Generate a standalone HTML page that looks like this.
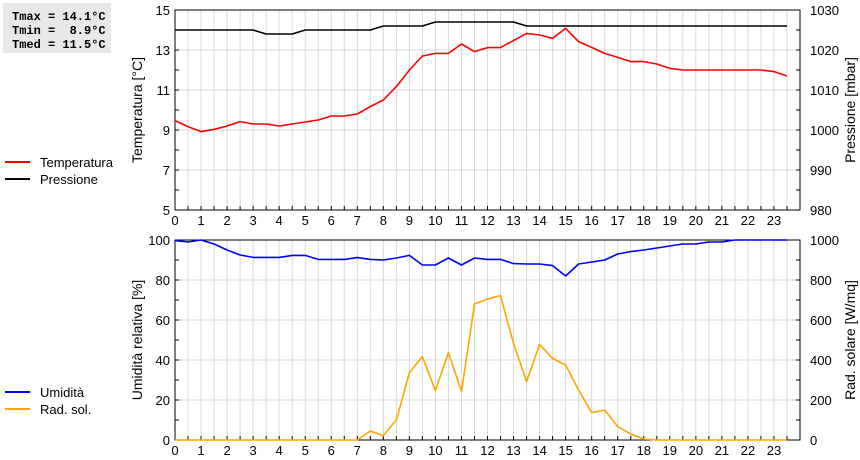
<!DOCTYPE html>
<html><head><meta charset="utf-8"><style>
html,body{margin:0;padding:0;background:#fff;width:860px;height:460px;overflow:hidden}
svg{display:block;font-family:"Liberation Sans",sans-serif}
</style></head><body>
<svg id="c" width="860" height="460" xmlns="http://www.w3.org/2000/svg">
<g>
<rect x="3" y="3" width="108" height="50" fill="#e8e8e8"/>
<text x="12" y="20" font-family="Liberation Mono,monospace" font-weight="bold" font-size="12" xml:space="preserve">Tmax = 14.1°C</text>
<text x="12" y="34" font-family="Liberation Mono,monospace" font-weight="bold" font-size="12" xml:space="preserve">Tmin =  8.9°C</text>
<text x="12" y="48" font-family="Liberation Mono,monospace" font-weight="bold" font-size="12" xml:space="preserve">Tmed = 11.5°C</text>
</g>
<g id="layer"></g>
</svg>
<script>
const hours=[0,0.5,1,1.5,2,2.5,3,3.5,4,4.5,5,5.5,6,6.5,7,7.5,8,8.5,9,9.5,10,10.5,11,11.5,12,12.5,13,13.5,14,14.5,15,15.5,16,16.5,17,17.5,18,18.5,19,19.5,20,20.5,21,21.5,22,22.5,23,23.5];
const temperature=[9.47,9.17,8.92,9.03,9.2,9.42,9.3,9.3,9.2,9.3,9.4,9.5,9.7,9.7,9.8,10.17,10.5,11.17,12.0,12.7,12.83,12.83,13.3,12.92,13.12,13.12,13.47,13.83,13.75,13.58,14.08,13.42,13.13,12.83,12.63,12.42,12.42,12.3,12.08,12.0,12.0,12.0,12.0,12.0,12.0,12.0,11.92,11.7];
const pressure=[1025,1025,1025,1025,1025,1025,1025,1024,1024,1024,1025,1025,1025,1025,1025,1025,1026,1026,1026,1026,1027,1027,1027,1027,1027,1027,1027,1026,1026,1026,1026,1026,1026,1026,1026,1026,1026,1026,1026,1026,1026,1026,1026,1026,1026,1026,1026,1026];
const humidity=[99.7,99,100,98,95,92.5,91.3,91.3,91.3,92.3,92.3,90.3,90.3,90.3,91.2,90.3,90,91,92.3,87.5,87.5,91,87.5,91,90.3,90.3,88.2,88,88,87.2,82,88,89,90,93,94.2,95,96,97,98,98,99,99,100,100,100,100,100];
const radiation=[0,0,0,0,0,0,0,0,0,0,0,0,0,0,0,45,22,100,337,417,247,437,242,680,705,722,483,292,478,408,375,250,137,150,67,30,5,0,0,0,0,0,0,0,0,0,0,0];
const xTicks=[0,1,2,3,4,5,6,7,8,9,10,11,12,13,14,15,16,17,18,19,20,21,22,23];
const tempTicks=[5,7,9,11,13,15];
const presTicks=[980,990,1000,1010,1020,1030];
const humTicks=[0,20,40,60,80,100];
const radTicks=[0,200,400,600,800,1000];

const NS="http://www.w3.org/2000/svg";
const L=document.getElementById('layer');
const X0=175,X1=800;
const xs=h=>X0+(X1-X0)*h/24;
function el(tag,attrs,parent){const e=document.createElementNS(NS,tag);for(const k in attrs)e.setAttribute(k,attrs[k]);(parent||L).appendChild(e);return e;}
function txt(x,y,s,attrs){const e=el('text',Object.assign({x:x,y:y,'font-size':13},attrs||{}));e.textContent=s;return e;}

function panel(yTop,yBot,lmin,lmax,lTicks,lMinor,rmin,rmax,rTicks,lTitle,rTitle,pname){
  const g=el('g',{});
  
  
  const ly=v=>yBot-(yBot-yTop)*(v-lmin)/(lmax-lmin);
  const ry=v=>yBot-(yBot-yTop)*(v-rmin)/(rmax-rmin);
  for(let h=0.5;h<24;h+=0.5){el('line',{x1:xs(h),x2:xs(h),y1:yTop,y2:yBot,stroke:'#d8d8d8','stroke-width':1},g);}
  lTicks.forEach(v=>{if(v>lmin&&v<lmax)el('line',{x1:X0,x2:X1,y1:ly(v),y2:ly(v),stroke:'#d8d8d8','stroke-width':1},g);});
  el('rect',{x:X0,y:yTop,width:X1-X0,height:yBot-yTop,fill:'none',stroke:'#000','stroke-width':1},g);
  for(let v=lmin;v<=lmax+1e-9;v+=lMinor){el('line',{x1:X0,x2:X0+4,y1:ly(v),y2:ly(v),stroke:'#000'},g);el('line',{x1:X1-4,x2:X1,y1:ly(v),y2:ly(v),stroke:'#000'},g);}
  for(let h=0;h<=24;h+=0.5){el('line',{x1:xs(h),x2:xs(h),y1:yBot-4,y2:yBot,stroke:'#000'},g);}
  lTicks.forEach(v=>{const t=txt(X0-5,ly(v)+5,String(v),{'text-anchor':'end'});g.appendChild(t);});
  rTicks.forEach(v=>{const t=txt(X1+10,ry(v)+5,String(v),{});g.appendChild(t);});
  xTicks.forEach(h=>{const t=txt(xs(h),yBot+15,String(h),{'text-anchor':'middle'});g.appendChild(t);});
  const lt=txt(0,0,lTitle,{'text-anchor':'middle','font-size':14,transform:`translate(142,${(yTop+yBot)/2}) rotate(-90)`});g.appendChild(lt);
  
  
  const rt=txt(0,0,rTitle,{'text-anchor':'middle','font-size':14,transform:`translate(855,${(yTop+yBot)/2}) rotate(-90)`});g.appendChild(rt);
  
  
  return {ly,ry,g};
}
function series(vals,yf,color,name,g){
  const pts=hours.map((h,i)=>xs(h).toFixed(1)+','+yf(vals[i]).toFixed(1)).join(' ');
  const p=el('polyline',{points:pts,fill:'none',stroke:color,'stroke-width':1.6,'stroke-linejoin':'round'},g);
  
  
}
function legend(y,color,label,name){
  const g=el('g',{});
  
  
  el('line',{x1:5,x2:30,y1:y,y2:y,stroke:color,'stroke-width':2},g);
  g.appendChild(txt(40,y+5,label,{}));
}
const topPanel=panel(10,210,5,15,tempTicks,1,980,1030,presTicks,'Temperatura [°C]','Pressione [mbar]','top-panel');
series(pressure,topPanel.ry,'#000','pressure-line',topPanel.g);
series(temperature,topPanel.ly,'#f00','temperature-line',topPanel.g);
legend(162,'#f00','Temperatura','legend-temperatura');
legend(179,'#000','Pressione','legend-pressione');
const bottomPanel=panel(240,440,0,100,humTicks,10,0,1000,radTicks,'Umidità relativa [%]','Rad. solare [W/mq]','bottom-panel');
series(radiation,bottomPanel.ry,'#ffa500','radiation-line',bottomPanel.g);
series(humidity,bottomPanel.ly,'#00f','humidity-line',bottomPanel.g);
legend(392,'#00f','Umidità','legend-umidita');
legend(409,'#ffa500','Rad. sol.','legend-rad-sol');
</script>
</body></html>
